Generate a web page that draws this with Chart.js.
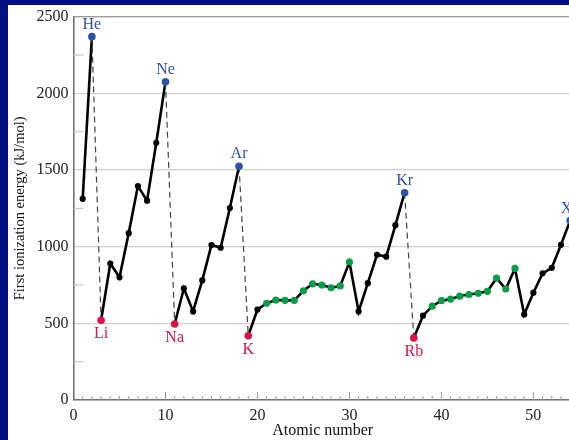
<!DOCTYPE html>
<html><head><meta charset="utf-8">
<script src="https://cdn.jsdelivr.net/npm/chart.js@4/dist/chart.umd.min.js"></script>
<style>
html,body{margin:0;padding:0;overflow:hidden;background:#00107e;width:569px;height:440px;}
#wrap{position:absolute;left:8px;top:5px;width:568px;height:435px;background:#fff;}
canvas{display:block}
</style></head><body><div id="wrap"><canvas id="c" width="568" height="435"></canvas></div>
<script>
// ---- data ----
const atomicNumbers = [1,2,3,4,5,6,7,8,9,10,11,12,13,14,15,16,17,18,19,20,21,22,23,24,25,26,27,28,29,30,31,32,33,34,35,36,37,38,39,40,41,42,43,44,45,46,47,48,49,50,51,52,53,54];
const symbols = ['H','He','Li','Be','B','C','N','O','F','Ne','Na','Mg','Al','Si','P','S','Cl','Ar','K','Ca','Sc','Ti','V','Cr','Mn','Fe','Co','Ni','Cu','Zn','Ga','Ge','As','Se','Br','Kr','Rb','Sr','Y','Zr','Nb','Mo','Tc','Ru','Rh','Pd','Ag','Cd','In','Sn','Sb','Te','I','Xe'];
const ionizationEnergies = [1312,2370,520,890,800,1088,1395,1300,1678,2075,496,728,578,780,1011,993,1252,1525,419,590,631,652,650,650,712,758,750,732,744,900,578,762,947,935,1140,1352,405,550,612,648,658,678,688,696,709,795,724,858,558,700,826,862,1012,1170];
const nobleGases = [2,10,18,36,54];
const alkaliMetals = [3,11,19,37];
const transitionMetals = [21,22,23,24,25,26,27,28,29,30,39,40,41,42,43,44,45,46,47,48];
const xTickLabels = [0,10,20,30,40,50];
const yTickLabels = [0,500,1000,1500,2000,2500];
const xMinorTicks = atomicNumbers;            // small tick per element
const yMinorTicks = [250,750,1250,1750,2250];

// ---- styles ----
const SERIF = "'Liberation Serif', 'DejaVu Serif', serif";
const BLUE = '#2f52a5', RED = '#d3164a', GREEN = '#0b9a47', BLACK = '#000';
const colorFor = z => nobleGases.includes(z) ? BLUE : alkaliMetals.includes(z) ? RED : transitionMetals.includes(z) ? GREEN : BLACK;
const radiusFor = z => (nobleGases.includes(z) || alkaliMetals.includes(z)) ? 3.8 : transitionMetals.includes(z) ? 3.6 : 3.1;
const isDrop = ctx => {
  const z0 = atomicNumbers[ctx.p0DataIndex], z1 = atomicNumbers[ctx.p1DataIndex];
  return nobleGases.includes(z0) && alkaliMetals.includes(z1);
};

const decor = {
  id: 'decor',
  beforeDatasetsDraw(chart) {
    const {ctx, chartArea: a, scales: {x, y}} = chart;
    ctx.save();
    ctx.strokeStyle = '#9a9a9a'; ctx.lineWidth = 1.2;
    ctx.beginPath(); ctx.moveTo(a.left, a.top); ctx.lineTo(a.right + 5, a.top); ctx.stroke();
    ctx.strokeStyle = '#c8c8c8'; ctx.lineWidth = 1.2;
    yMinorTicks.forEach(v => {
      const py = y.getPixelForValue(v);
      ctx.beginPath(); ctx.moveTo(a.left, py); ctx.lineTo(a.left + 10, py); ctx.stroke();
    });
    ctx.strokeStyle = '#9a9a9a'; ctx.lineWidth = 1;
    xMinorTicks.forEach(v => {
      const px = x.getPixelForValue(v);
      const len = v % 10 === 0 ? 8 : 4;
      ctx.beginPath(); ctx.moveTo(px, a.bottom); ctx.lineTo(px, a.bottom - len); ctx.stroke();
    });
    ctx.restore();
  },
  afterDatasetsDraw(chart) {
    const {ctx} = chart;
    const meta = chart.getDatasetMeta(0);
    ctx.save();
    ctx.font = "16px " + SERIF;
    ctx.textAlign = 'center'; ctx.textBaseline = 'middle';
    atomicNumbers.forEach((z, i) => {
      const p = meta.data[i];
      if (nobleGases.includes(z)) {
        ctx.fillStyle = BLUE; ctx.fillText(symbols[i], p.x, p.y - 12);
      } else if (alkaliMetals.includes(z)) {
        ctx.fillStyle = RED; ctx.fillText(symbols[i], p.x, p.y + 14);
      }
    });
    ctx.restore();
  }
};

new Chart(document.getElementById('c'), {
  type: 'line',
  data: {
    datasets: [{
      data: atomicNumbers.map((z, i) => ({x: z, y: ionizationEnergies[i]})),
      borderColor: BLACK,
      borderWidth: 2.6,
      tension: 0,
      fill: false,
      pointBackgroundColor: atomicNumbers.map(colorFor),
      pointBorderWidth: 0,
      pointRadius: atomicNumbers.map(radiusFor),
      clip: false,
      segment: {
        borderColor: ctx => isDrop(ctx) ? '#444' : undefined,
        borderDash: ctx => isDrop(ctx) ? [6, 4] : undefined,
        borderWidth: ctx => isDrop(ctx) ? 1.2 : undefined
      }
    }]
  },
  options: {
    responsive: false,
    animation: false,
    layout: {padding: {top: 11.7, right: 0, bottom: 0, left: 0}},
    plugins: {legend: {display: false}, tooltip: {enabled: false}},
    scales: {
      x: {
        type: 'linear', min: 0, max: 54.2,
        afterBuildTicks: s => { s.ticks = xTickLabels.map(v => ({value: v})); },
        afterFit: s => { s.height = 40; },
        grid: {display: false, drawTicks: false},
        border: {display: true, color: '#707070', width: 1.6},
        ticks: {font: {family: SERIF, size: 16}, color: '#222', padding: 6, maxRotation: 0, autoSkip: false, callback: v => String(v)},
        title: {display: true, text: 'Atomic number', font: {family: SERIF, size: 16}, color: '#111', padding: {top: 0, bottom: 0}}
      },
      y: {
        type: 'linear', min: 0, max: 2500,
        afterBuildTicks: s => { s.ticks = yTickLabels.map(v => ({value: v})); },
        afterFit: s => { s.width = 65.5; },
        grid: {color: '#cfcfcf', lineWidth: 1.2, drawTicks: false},
        border: {display: true, color: '#707070', width: 1.6},
        ticks: {font: {family: SERIF, size: 16, lineHeight: 0.8}, color: '#222', padding: 5, callback: v => String(v)},
        title: {display: true, text: 'First ionization energy (kJ/mol)', font: {family: SERIF, size: 14.5}, color: '#111', padding: {top: 3, bottom: 0}}
      }
    }
  },
  plugins: [decor]
});
</script></body></html>
